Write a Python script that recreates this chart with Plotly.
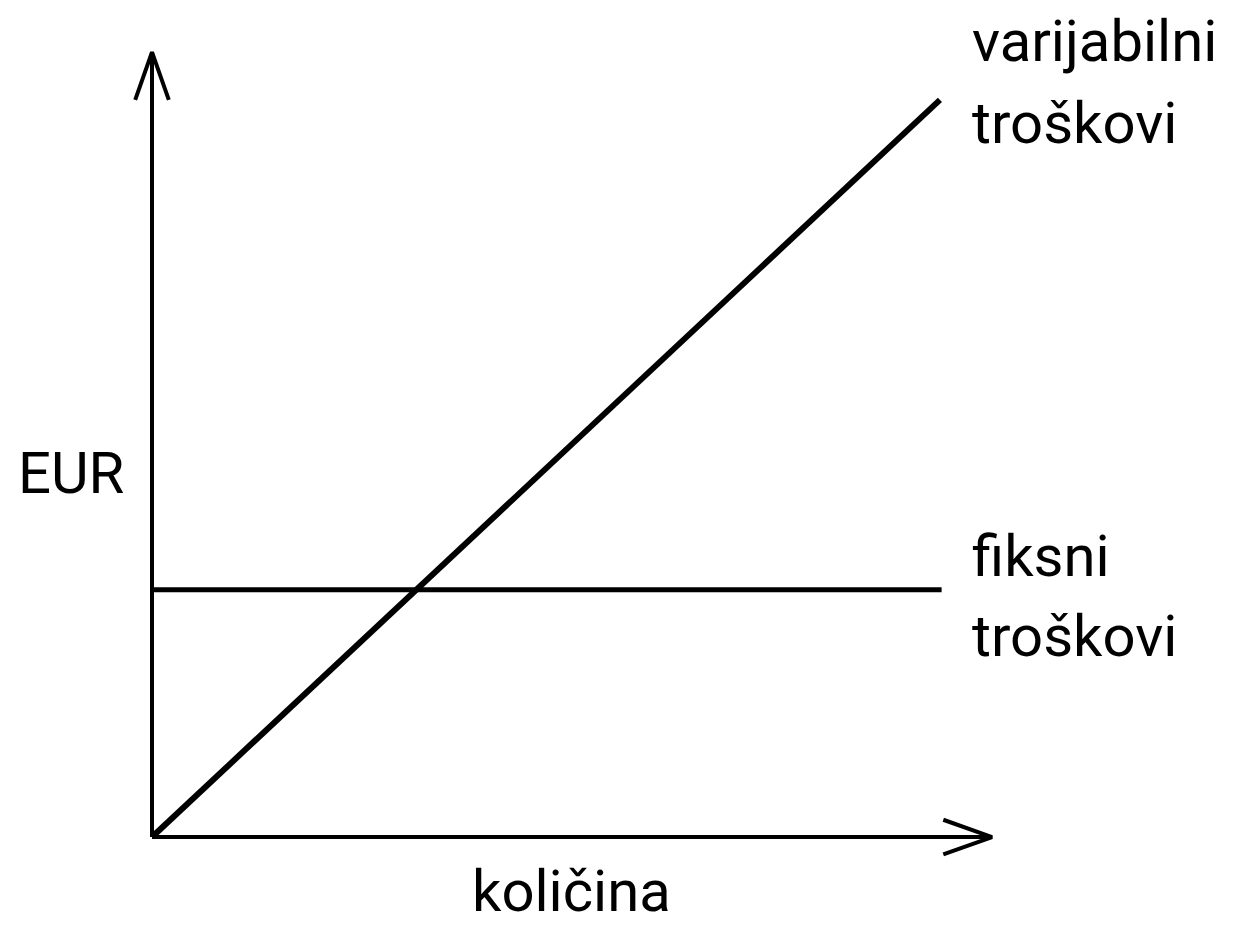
import plotly.graph_objects as go

# quantity (x) and costs (y), in arbitrary units
kolicina = [0, 9.38]
varijabilni_troskovi = [0, 9.39]
kolicina_fiksni = [0, 9.4]
fiksni_troskovi = [3.15, 3.15]

FONT = "Roboto, sans-serif"
SIZE = 58

fig = go.Figure()

# axes with open arrowheads
fig.add_trace(go.Scatter(x=[0, 0, None, -0.2, 0, 0.2], y=[0, 10, None, 9.39, 10, 9.39],
                         mode="lines", line=dict(color="black", width=4), showlegend=False))
fig.add_trace(go.Scatter(x=[0, 10, None, 9.42, 10, 9.42], y=[0, 0, None, 0.22, 0, -0.22],
                         mode="lines", line=dict(color="black", width=4), showlegend=False))

# cost lines
fig.add_trace(go.Scatter(x=kolicina_fiksni, y=fiksni_troskovi, mode="lines",
                         line=dict(color="black", width=5), showlegend=False))
fig.add_trace(go.Scatter(x=kolicina, y=varijabilni_troskovi, mode="lines",
                         line=dict(color="black", width=6), showlegend=False))

labels = [
    ("varijabilni", 9.74, 10.14),
    ("troškovi", 9.74, 9.10),
    ("fiksni", 9.74, 3.58),
    ("troškovi", 9.74, 2.56),
    ("EUR", -1.62, 4.64),
]
for txt, x, y in labels:
    fig.add_annotation(x=x, y=y, text=txt, showarrow=False, xanchor="left", yanchor="middle",
                       font=dict(family=FONT, size=SIZE, color="black"))
fig.add_annotation(x=4.99, y=-1.15, text="količina", showarrow=False, xanchor="center",
                   yanchor="bottom", font=dict(family=FONT, size=SIZE, color="black"))

# page has an 8px body margin, so the figure is shrunk by that much
fig.update_layout(
    width=1232, height=920,
    margin=dict(l=0, r=0, t=0, b=0),
    paper_bgcolor="white", plot_bgcolor="white",
    xaxis=dict(range=[-1.7143, 12.952], visible=False),
    yaxis=dict(range=[-1.159, 10.561], visible=False),
)

fig.write_html("out.html")
